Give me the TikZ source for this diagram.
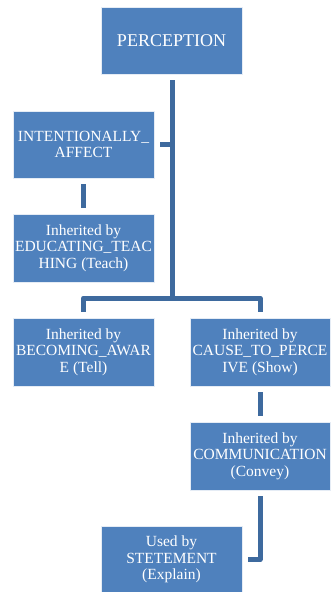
\documentclass[tikz,border=0pt]{standalone}
\usepackage{fontspec}
\setmainfont{Liberation Serif}
\definecolor{boxblue}{RGB}{79,129,189}
\definecolor{linkblue}{RGB}{62,106,158}
\begin{document}
\begin{tikzpicture}[x=1pt,y=-1pt,
  box/.style={draw=white!85!boxblue,line width=0.8pt,fill=boxblue,text=white,
    minimum width=141pt,minimum height=67pt,inner sep=0pt,align=center,
    font=\fontsize{15.5}{16.7}\selectfont},
  conn/.style={draw=linkblue,line width=5pt,line join=round,line cap=butt}]
\useasboundingbox (0,0) rectangle (330,592);
\node[box,font=\fontsize{18}{20}\selectfont] (perc) at (171.5,40.5) {PERCEPTION};
\node[box] (intent) at (83.5,144.5) {INTENTIONALLY\_\\AFFECT};
\node[box,minimum height=68pt] (educ) at (83.5,248) {Inherited by\\EDUCATING\_TEAC\\HING (Teach)};
\node[box,minimum height=68pt] (bec) at (83.5,352) {Inherited by\\BECOMING\_AWAR\\E (Tell)};
\node[box,minimum width=140pt,minimum height=68pt] (cause) at (260,352) {Inherited by\\CAUSE\_TO\_PERCE\\IVE (Show)};
\node[box,minimum width=140pt,minimum height=68pt] (comm) at (260,456) {Inherited by\\COMMUNICATION\\(Convey)};
\node[box] (stet) at (171.5,559.5) {Used by\\STETEMENT\\(Explain)};
% connectors
\coordinate (trunk) at (172,298);
\draw[conn] ([yshift=-6pt]perc.south -| trunk) -- (trunk);
\draw[conn] ([xshift=6pt]intent.east) -- (intent.east -| trunk);
\draw[conn] ([yshift=6pt]bec.north) |- (trunk) -| ([yshift=6pt]cause.north);
\draw[conn] ([yshift=-6pt]intent.south) -- ([yshift=6pt]educ.north);
\draw[conn] ([yshift=-6pt]cause.south) -- ([yshift=6pt]comm.north);
\draw[conn] ([yshift=-6pt]comm.south) |- ([xshift=6pt]stet.east);
\end{tikzpicture}
\end{document}
